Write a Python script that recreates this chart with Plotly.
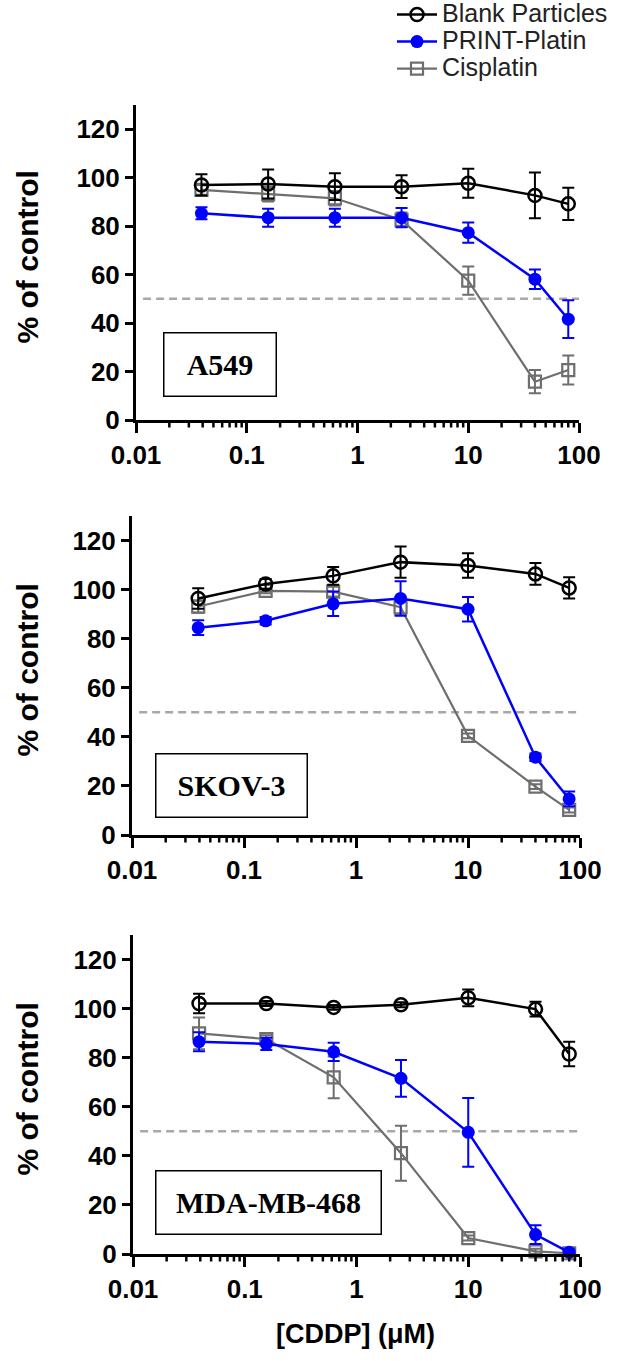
import math
import plotly.graph_objects as go

W, H = 642, 1361

# ---------------- data ----------------
conc = [0.039, 0.156, 0.625, 2.5, 10, 40, 80]
series_names = ["Blank Particles", "PRINT-Platin", "Cisplatin"]
cell_lines = ["A549", "SKOV-3", "MDA-MB-468"]

a549_blank = [97.0, 97.4, 96.3, 96.3, 97.7, 92.7, 89.2]
a549_blank_err = [4.4, 6.0, 5.5, 4.7, 6.0, 9.4, 6.7]
a549_print = [85.3, 83.5, 83.5, 83.5, 77.3, 58.1, 41.6]
a549_print_err = [2.5, 3.7, 3.7, 4.0, 4.2, 4.0, 7.8]
a549_cis = [95.0, 93.2, 91.5, 82.6, 57.5, 15.8, 20.6]
a549_cis_err = [2.0, 3.0, 3.0, 3.0, 5.8, 4.8, 6.0]

skov_blank = [96.4, 102.3, 105.6, 111.2, 109.8, 106.4, 100.7]
skov_blank_err = [4.2, 2.0, 3.6, 6.4, 5.0, 4.4, 4.3]
skov_print = [84.5, 87.3, 94.2, 96.4, 92.0, 31.7, 14.7]
skov_print_err = [3.0, 1.5, 5.0, 7.0, 5.0, 1.5, 3.0]
skov_cis = [93.1, 99.5, 99.2, 92.8, 40.4, 19.7, 10.2]
skov_cis_err = [2.5, 1.0, 2.0, 3.0, 1.0, 1.0, 1.0]

mda_blank = [102.1, 102.1, 100.5, 101.6, 104.4, 99.8, 81.5]
mda_blank_err = [4.0, 1.0, 1.0, 1.0, 3.4, 3.0, 5.0]
mda_print = [86.5, 85.6, 82.4, 71.6, 49.6, 7.9, 0.7]
mda_print_err = [3.9, 2.5, 3.7, 7.5, 14.0, 3.8, 1.0]
mda_cis = [89.9, 87.6, 72.0, 41.1, 6.5, 1.1, 0.3]
mda_cis_err = [6.5, 1.5, 8.5, 11.2, 1.0, 1.0, 1.0]

threshold = 50
x_tickvals = [0.01, 0.1, 1, 10, 100]
x_ticktext = ["0.01", "0.1", "1", "10", "100"]
x_minor_ticks = [m * d for d in (0.01, 0.1, 1, 10) for m in range(2, 10)]
y_tickvals = [0, 20, 40, 60, 80, 100, 120]

panels = [
    (a549_blank, a549_blank_err, a549_print, a549_print_err, a549_cis, a549_cis_err),
    (skov_blank, skov_blank_err, skov_print, skov_print_err, skov_cis, skov_cis_err),
    (mda_blank, mda_blank_err, mda_print, mda_print_err, mda_cis, mda_cis_err),
]

# ---------------- layout geometry (pixels) ----------------
X_RANGE = [-2, 2]
px_x = [(136, 579), (132, 580), (133, 580)]
px_y = [(105, 420), (516, 835), (935, 1254)]
box_px = [(163, 276, 332, 396), (155, 307, 754, 818), (155, 381, 1170, 1234)]
MINOR_LEN = 6

def fx(p):
    return p / W

def fy(p):
    return 1 - p / H

BLACK = "#000000"
BLUE = "#0000FF"
GREY = "#6E6E6E"

fig = go.Figure()

styles = {
    "Blank Particles": dict(color=BLACK, symbol="circle-open", lw=2.5, mlw=2.5, size=13),
    "PRINT-Platin": dict(color=BLUE, symbol="circle", lw=2.5, mlw=0, size=13),
    "Cisplatin": dict(color=GREY, symbol="square-open", lw=2.2, mlw=2.2, size=12),
}

for i, (b, be, p, pe, c, ce) in enumerate(panels):
    ax = "" if i == 0 else str(i + 1)
    for name, vals, errs in [("Cisplatin", c, ce), ("PRINT-Platin", p, pe), ("Blank Particles", b, be)]:
        s = styles[name]
        fig.add_trace(go.Scatter(
            x=conc, y=vals, name='<span style="font-size:25px">' + name + '</span>',
            mode="lines+markers",
            xaxis="x" + ax, yaxis="y" + ax,
            line=dict(color=s["color"], width=s["lw"]),
            marker=dict(symbol=s["symbol"], size=s["size"], color=s["color"],
                        line=dict(color=s["color"], width=s["mlw"])),
            error_y=dict(type="data", array=errs, visible=True, color=s["color"],
                         thickness=2, width=6),
            cliponaxis=False,
            showlegend=(i == 0),
        ))

axis_font = dict(family="Liberation Sans, Arial", size=26, color="black", weight="bold")

layout = dict(
    width=W, height=H,
    margin=dict(l=0, r=0, t=0, b=0, autoexpand=False),
    paper_bgcolor="white", plot_bgcolor="white",
    showlegend=True,
    legend=dict(x=fx(392), y=fy(-4), xanchor="left", yanchor="top",
                traceorder="reversed",
                font=dict(family="Liberation Sans, Arial", size=18.5, color="#222"),
                bgcolor="rgba(0,0,0,0)", itemwidth=40, tracegroupgap=0),
    annotations=[], shapes=[],
)

for i in range(3):
    ax = "" if i == 0 else str(i + 1)
    d0, d1 = fx(px_x[i][0]), fx(px_x[i][1])
    layout["xaxis" + ax] = dict(
        type="log", range=X_RANGE, domain=[d0, d1],
        anchor="y" + ax, automargin=False,
        tickmode="array", tickvals=x_tickvals, ticktext=x_ticktext, ticks="outside",
        ticklen=10, tickwidth=2.5, tickcolor="black",
        showline=True, linecolor="black", linewidth=3,
        showgrid=False, zeroline=False, tickfont=axis_font,
    )
    layout["yaxis" + ax] = dict(
        range=[0, 130], domain=[fy(px_y[i][1]), fy(px_y[i][0])],
        anchor="x" + ax, automargin=False,
        tickvals=y_tickvals, ticks="outside", ticklen=8, tickwidth=2.5,
        tickcolor="black", showline=True, linecolor="black", linewidth=3,
        showgrid=False, zeroline=False, tickfont=axis_font,
    )
    # minor log ticks (2..9 in each decade) below the x axis line
    for v in x_minor_ticks:
        xp = d0 + (math.log10(v) - X_RANGE[0]) / (X_RANGE[1] - X_RANGE[0]) * (d1 - d0)
        layout["shapes"].append(dict(
            type="line", xref="paper", yref="paper",
            x0=xp, x1=xp, y0=fy(px_y[i][1]), y1=fy(px_y[i][1] + MINOR_LEN + 1.5),
            line=dict(color="black", width=2.5), layer="above",
        ))
    # 50% reference line
    layout["shapes"].append(dict(
        type="line", xref="x" + ax + " domain", yref="y" + ax,
        x0=0.016, x1=1.0, y0=threshold, y1=threshold,
        line=dict(color="#A8A8A8", width=2.5, dash="8px,5px"), layer="below",
    ))
    # cell line label box
    x0, x1, y0, y1 = box_px[i]
    layout["annotations"].append(dict(
        xref="paper", yref="paper", x=fx((x0 + x1) / 2), y=fy((y0 + y1) / 2),
        xanchor="center", yanchor="middle", showarrow=False,
        text="<b>" + cell_lines[i] + "</b>",
        font=dict(family="Liberation Serif, Times New Roman", size=30, color="black"),
        width=x1 - x0 - 2, height=y1 - y0 - 2, borderpad=0,
        bordercolor="black", borderwidth=1.5, bgcolor="white",
    ))
    # y-axis title
    layout["annotations"].append(dict(
        xref="paper", yref="paper", x=fx(27), y=fy((px_y[i][0] + px_y[i][1]) / 2 - 5),
        xanchor="center", yanchor="middle", showarrow=False, textangle=-90,
        text="% of control",
        font=dict(family="Liberation Sans, Arial", size=30, color="black", weight="bold"),
    ))

layout["annotations"].append(dict(
    xref="paper", yref="paper", x=fx(355), y=fy(1334),
    xanchor="center", yanchor="middle", showarrow=False,
    text="[CDDP] (\u03bcM)",
    font=dict(family="Liberation Sans, Arial", size=27, color="black", weight="bold"),
))

fig.update_layout(**layout)
fig.write_html("out.html")
